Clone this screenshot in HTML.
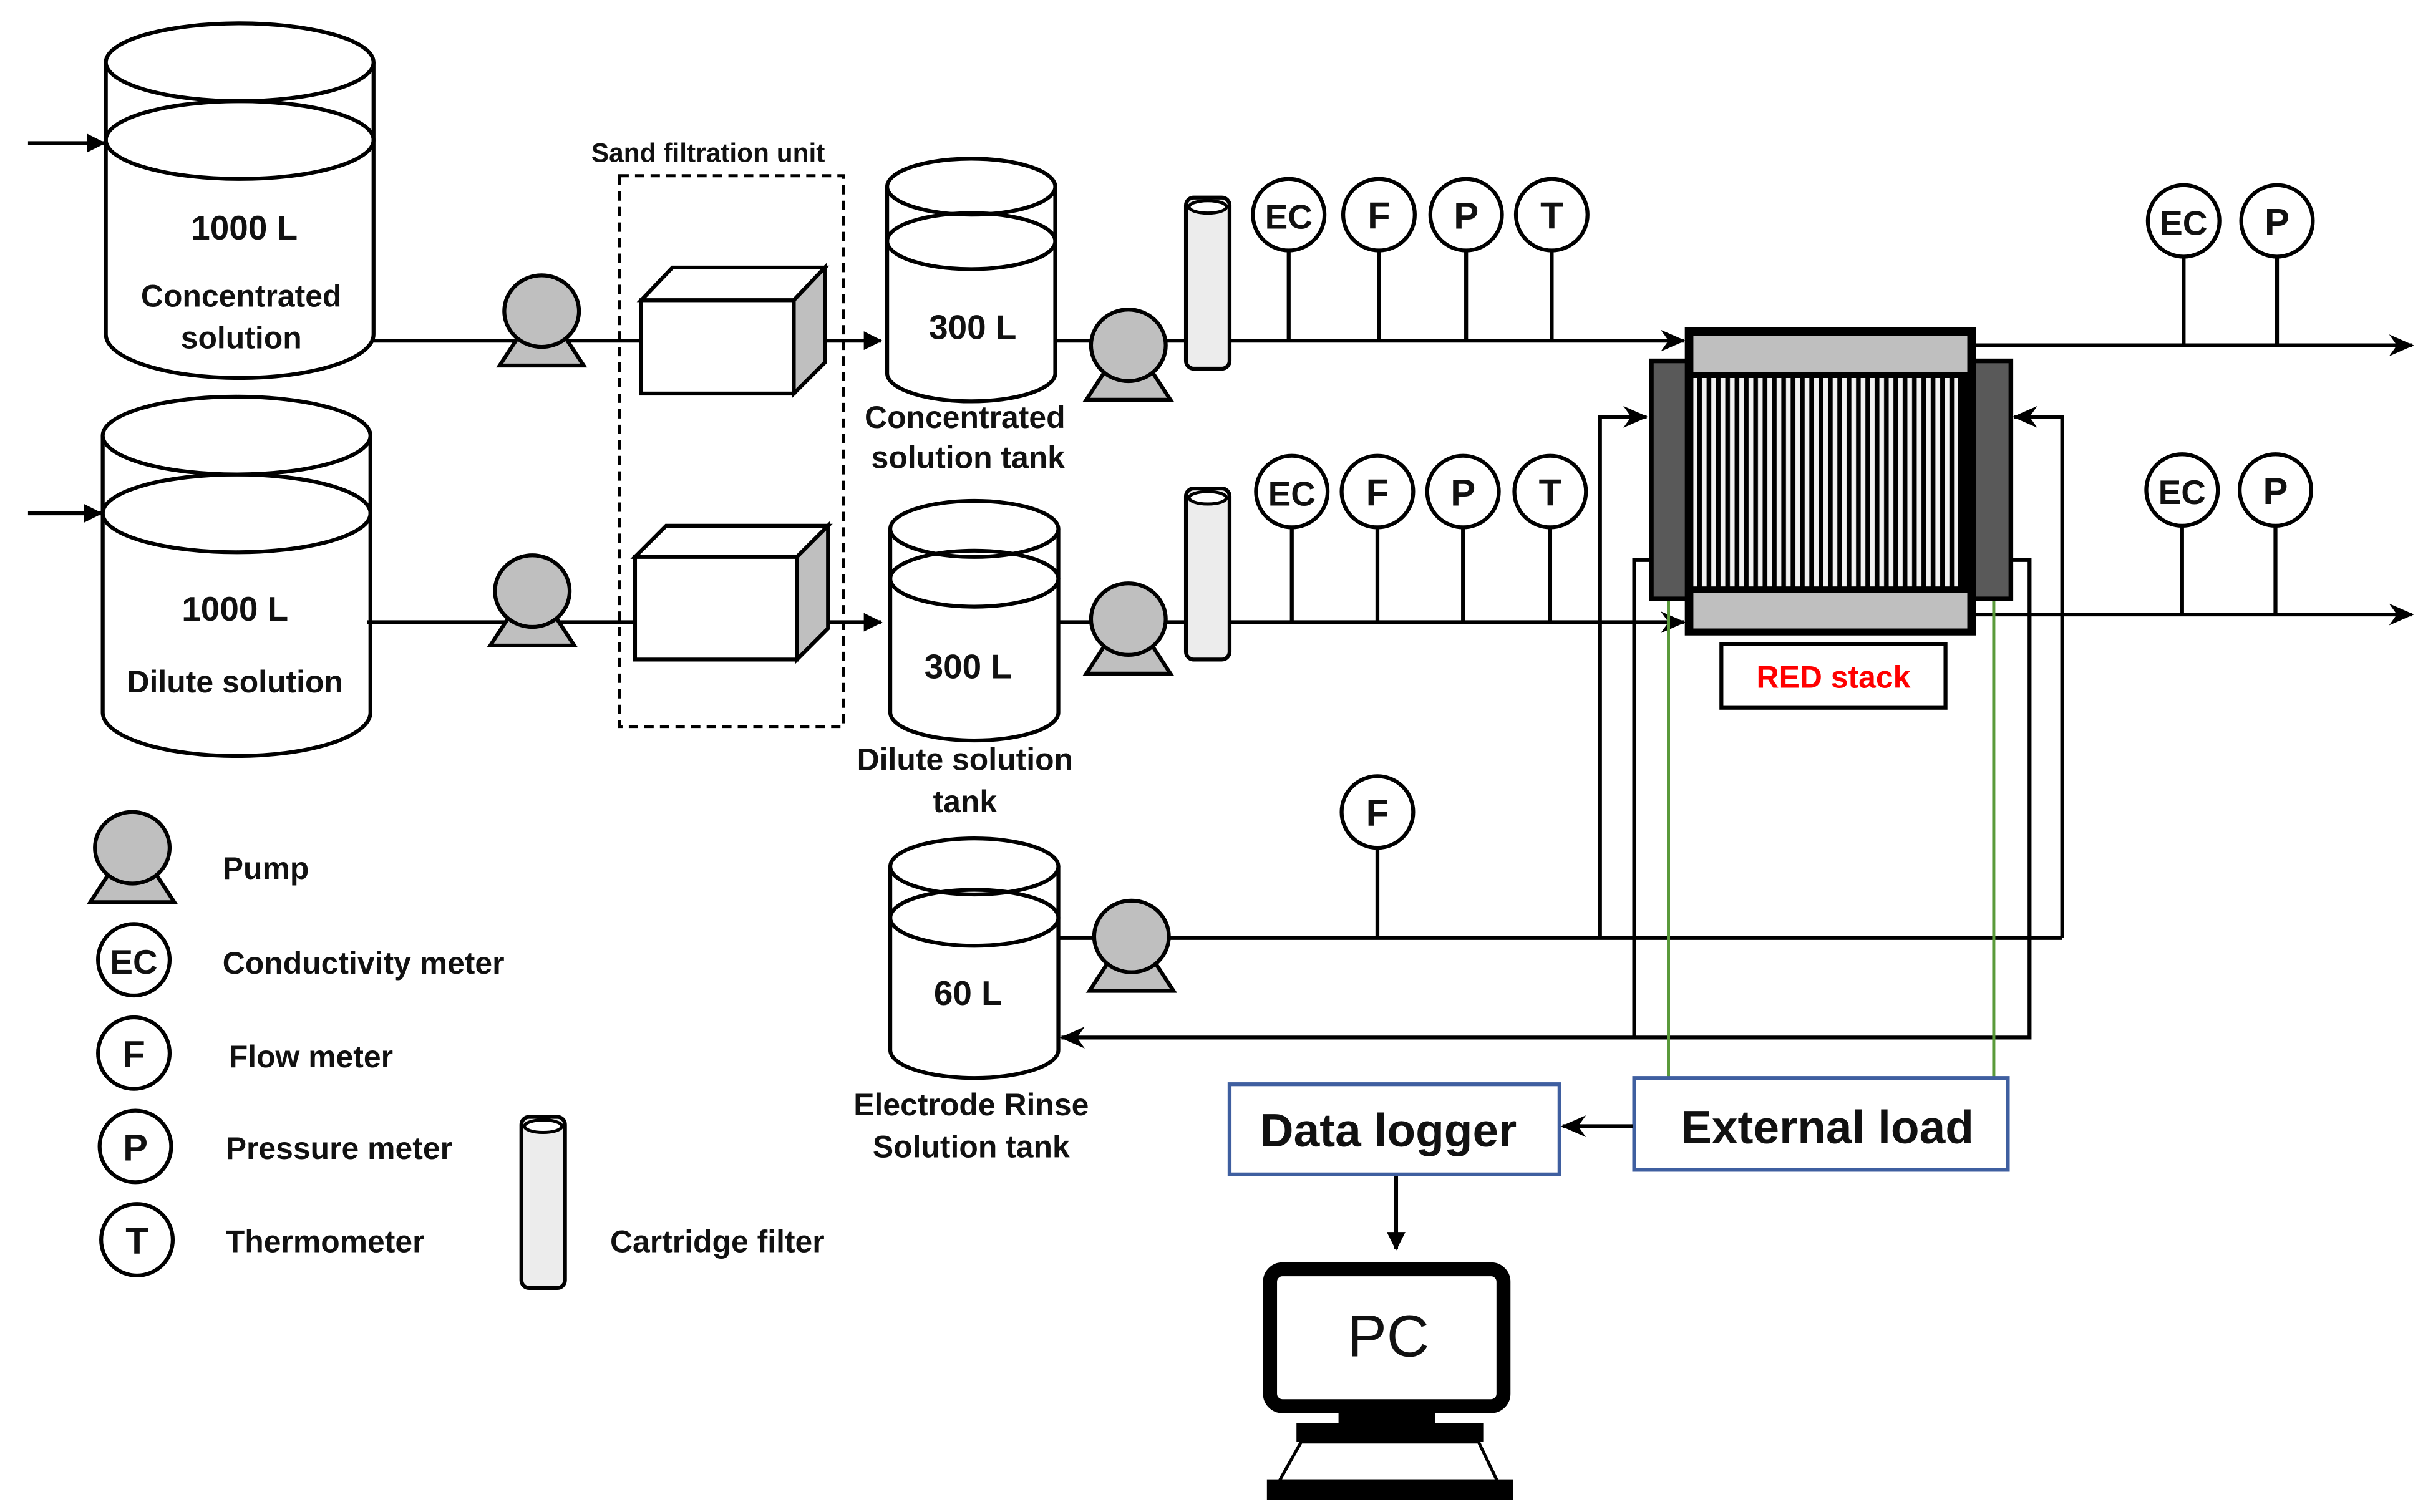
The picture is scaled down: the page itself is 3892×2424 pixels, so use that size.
<!DOCTYPE html>
<html><head><meta charset="utf-8"><style>
html,body{margin:0;padding:0;background:#fff}
svg{display:block}
text{font-family:"Liberation Sans",Arial,sans-serif;font-weight:bold;fill:#111}
</style></head><body>
<svg width="3892" height="2424" viewBox="0 0 1560 972" preserveAspectRatio="none" xmlns="http://www.w3.org/2000/svg">
<defs>
<marker id="ah" markerWidth="12" markerHeight="12" refX="11" refY="6" orient="auto" markerUnits="userSpaceOnUse" viewBox="0 0 12 12"><path d="M0,0 L12,6 L0,12 z" fill="#000"/></marker>
<marker id="ahb" markerWidth="16" markerHeight="16" refX="15" refY="8" orient="auto" markerUnits="userSpaceOnUse" viewBox="0 0 16 16"><path d="M0,1 L16,8 L0,15 L5,8 z" fill="#000"/></marker>
<pattern id="stripes" width="6" height="10" patternUnits="userSpaceOnUse"><rect width="6" height="10" fill="#000"/><rect x="1.5" width="3" height="10" fill="#f2f2f2"/></pattern>
<g id="pump"><path d="M-27,35 L-12,12 L12,12 L27,35 z" fill="#bfbfbf" stroke="#000" stroke-width="2.5"/><ellipse cx="0" cy="0" rx="24" ry="23" fill="#bfbfbf" stroke="#000" stroke-width="2.5"/></g>
<g id="cart"><rect x="-14" y="0" width="28" height="110" rx="5" fill="#ececec" stroke="#000" stroke-width="2.5"/><ellipse cx="0" cy="6" rx="12" ry="4" fill="#fff" stroke="#000" stroke-width="2"/></g>
</defs>

<g stroke="#000" stroke-width="2.5" fill="none">
<line x1="18" y1="92" x2="67" y2="92" marker-end="url(#ah)"/>
<line x1="18" y1="330" x2="65" y2="330" marker-end="url(#ah)"/>
<path d="M68,40 L68,215 A86,28 0 0 0 240,215 L240,40" fill="#fff"/>
<ellipse cx="154" cy="40" rx="86" ry="25" fill="#fff"/>
<ellipse cx="154" cy="90" rx="86" ry="25"/>
<path d="M66,280 L66,458 A86,28 0 0 0 238,458 L238,280" fill="#fff"/>
<ellipse cx="152" cy="280" rx="86" ry="25" fill="#fff"/>
<ellipse cx="152" cy="330" rx="86" ry="25"/>
<line x1="238" y1="219" x2="412" y2="219"/>
<line x1="236" y1="400" x2="408" y2="400"/>
<line x1="530" y1="219" x2="566" y2="219" marker-end="url(#ah)"/>
<line x1="532" y1="400" x2="566" y2="400" marker-end="url(#ah)"/>
<rect x="398" y="113" width="144" height="354" stroke-dasharray="6,4" stroke-width="2"/>
<path d="M412,193 L432,172 L530,172 L510,193 z" fill="#fff"/>
<path d="M510,193 L530,172 L530,233 L510,253 z" fill="#bfbfbf"/>
<rect x="412" y="193" width="98" height="60" fill="#fff"/>
<path d="M408,358 L428,338 L532,338 L512,358 z" fill="#fff"/>
<path d="M512,358 L532,338 L532,404 L512,424 z" fill="#bfbfbf"/>
<rect x="408" y="358" width="104" height="66" fill="#fff"/>
<path d="M570,120 L570,240 A54,18 0 0 0 678,240 L678,120" fill="#fff"/>
<ellipse cx="624" cy="120" rx="54" ry="18" fill="#fff"/>
<ellipse cx="624" cy="155" rx="54" ry="18"/>
<path d="M572,340 L572,458 A54,18 0 0 0 680,458 L680,340" fill="#fff"/>
<ellipse cx="626" cy="340" rx="54" ry="18" fill="#fff"/>
<ellipse cx="626" cy="372" rx="54" ry="18"/>
<path d="M572,557 L572,675 A54,18 0 0 0 680,675 L680,557" fill="#fff"/>
<ellipse cx="626" cy="557" rx="54" ry="18" fill="#fff"/>
<ellipse cx="626" cy="590" rx="54" ry="18"/>
<line x1="678" y1="219" x2="1082" y2="219" marker-end="url(#ahb)"/>
<line x1="680" y1="400" x2="1082" y2="400" marker-end="url(#ahb)"/>
<line x1="1268" y1="222" x2="1550" y2="222" marker-end="url(#ahb)"/>
<line x1="1268" y1="395" x2="1550" y2="395" marker-end="url(#ahb)"/>
<path d="M828,161 V219 M886,161 V219 M942,161 V219 M997,161 V219 M830,339 V400 M885,339 V400 M940,339 V400 M996,339 V400 M1403,165 V222 M1463,165 V222 M1402,338 V395 M1462,338 V395 M885,545 V603"/>
<line x1="680" y1="603" x2="1325" y2="603"/>
<path d="M1028,603 V268 H1058" marker-end="url(#ahb)"/>
<path d="M1325,603 V268 H1294" marker-end="url(#ahb)"/>
<path d="M1060,360 H1050 V667 H1304 V360 H1292"/>
<line x1="1050" y1="667" x2="682" y2="667" marker-end="url(#ahb)"/>
</g>
<g stroke="#5a9a3a" stroke-width="2"><line x1="1072" y1="385" x2="1072" y2="693"/><line x1="1281" y1="385" x2="1281" y2="693"/></g>

<g stroke="#000" stroke-width="3">
<rect x="1061" y="232" width="24" height="153" fill="#595959"/>
<rect x="1268" y="232" width="24" height="153" fill="#595959"/>
<rect x="1084" y="212" width="184" height="195" fill="#000"/>
</g>
<rect x="1088" y="216" width="176" height="23" fill="#bfbfbf"/>
<rect x="1088" y="381" width="176" height="23" fill="#bfbfbf"/>
<rect x="1088" y="243" width="170" height="134" fill="url(#stripes)"/>
<rect x="1106" y="414" width="144" height="41" fill="#fff" stroke="#000" stroke-width="2.5"/>
<text x="1178" y="442" font-size="20" text-anchor="middle" style="fill:#f00">RED stack</text>

<use href="#pump" x="348" y="200"/>
<use href="#pump" x="342" y="380"/>
<use href="#pump" x="725" y="222"/>
<use href="#pump" x="725" y="398"/>
<use href="#pump" x="727" y="602"/>
<use href="#pump" x="85" y="545"/>
<use href="#cart" x="776" y="127"/>
<use href="#cart" x="776" y="314"/>
<use href="#cart" x="349" y="718"/>

<g stroke="#000" stroke-width="2.5" fill="#fff">
<ellipse cx="828" cy="138" rx="23" ry="23"/><ellipse cx="886" cy="138" rx="23" ry="23"/><ellipse cx="942" cy="138" rx="23" ry="23"/><ellipse cx="997" cy="138" rx="23" ry="23"/>
<ellipse cx="830" cy="316" rx="23" ry="23"/><ellipse cx="885" cy="316" rx="23" ry="23"/><ellipse cx="940" cy="316" rx="23" ry="23"/><ellipse cx="996" cy="316" rx="23" ry="23"/>
<ellipse cx="1403" cy="142" rx="23" ry="23"/><ellipse cx="1463" cy="142" rx="23" ry="23"/>
<ellipse cx="1402" cy="315" rx="23" ry="23"/><ellipse cx="1462" cy="315" rx="23" ry="23"/>
<ellipse cx="885" cy="522" rx="23" ry="23"/>
<ellipse cx="86" cy="617" rx="23" ry="23"/><ellipse cx="86" cy="677" rx="23" ry="23"/><ellipse cx="87" cy="737" rx="23" ry="23"/><ellipse cx="88" cy="797" rx="23" ry="23"/>
</g>
<g font-size="24" text-anchor="middle">
<text x="828" y="147" font-size="22">EC</text><text x="886" y="147">F</text><text x="942" y="147">P</text><text x="997" y="147">T</text>
<text x="830" y="325" font-size="22">EC</text><text x="885" y="325">F</text><text x="940" y="325">P</text><text x="996" y="325">T</text>
<text x="1403" y="151" font-size="22">EC</text><text x="1463" y="151">P</text>
<text x="1402" y="324" font-size="22">EC</text><text x="1462" y="324">P</text>
<text x="885" y="531">F</text>
<text x="86" y="626" font-size="22">EC</text><text x="86" y="686">F</text><text x="87" y="746">P</text><text x="88" y="806">T</text>
</g>

<g font-size="20" text-anchor="middle">
<text x="157" y="154" font-size="22">1000 L</text>
<text x="155" y="197">Concentrated</text>
<text x="155" y="224">solution</text>
<text x="151" y="399" font-size="22">1000 L</text>
<text x="151" y="445">Dilute solution</text>
<text x="455" y="104" font-size="17">Sand filtration unit</text>
<text x="625" y="218" font-size="22">300 L</text>
<text x="620" y="275">Concentrated</text>
<text x="622" y="301">solution tank</text>
<text x="622" y="436" font-size="22">300 L</text>
<text x="620" y="495">Dilute solution</text>
<text x="620" y="522">tank</text>
<text x="622" y="646" font-size="22">60 L</text>
<text x="624" y="717">Electrode Rinse</text>
<text x="624" y="744">Solution tank</text>
</g>
<g font-size="20">
<text x="143" y="565">Pump</text>
<text x="143" y="626">Conductivity meter</text>
<text x="147" y="686">Flow meter</text>
<text x="145" y="745">Pressure meter</text>
<text x="145" y="805">Thermometer</text>
<text x="392" y="805">Cartridge filter</text>
</g>

<rect x="1050" y="693" width="240" height="59" fill="#fff" stroke="#3f5fa0" stroke-width="2.5"/>
<text x="1174" y="735" font-size="30" text-anchor="middle">External load</text>
<rect x="790" y="697" width="212" height="58" fill="#fff" stroke="#3f5fa0" stroke-width="2.5"/>
<text x="892" y="737" font-size="30" text-anchor="middle">Data logger</text>
<g stroke="#000" stroke-width="2.5" fill="none">
<line x1="1049" y1="724" x2="1004" y2="724" marker-end="url(#ahb)"/>
<line x1="897" y1="756" x2="897" y2="803" marker-end="url(#ah)"/>
</g>
<rect x="816" y="816" width="150" height="88" rx="8" fill="#fff" stroke="#000" stroke-width="9"/>
<text x="892" y="872" font-size="38" text-anchor="middle" style="font-weight:normal">PC</text>
<rect x="860" y="908" width="62" height="10" fill="#000"/>
<rect x="833" y="915" width="120" height="12" fill="#000"/>
<path d="M836,927 L950,927 L962,952 L822,952 z" fill="#fff" stroke="#000" stroke-width="2"/>
<rect x="814" y="951" width="158" height="13" fill="#000"/>
</svg>
</body></html>
